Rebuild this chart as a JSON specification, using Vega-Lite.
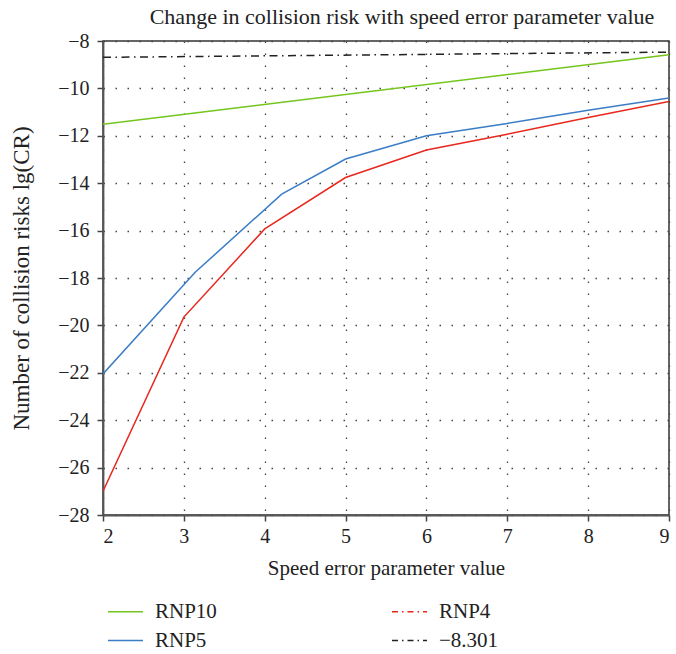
{
  "$schema": "https://vega.github.io/schema/vega-lite/v6.json",
  "width": 566,
  "height": 474,
  "autosize": {"type": "none"},
  "padding": {"left": 103, "top": 41, "right": 7, "bottom": 139},
  "background": "white",
  "title": {
    "text": "Change in collision risk with speed error parameter value",
    "font": "Liberation Serif",
    "fontSize": 22,
    "fontWeight": "normal",
    "color": "#222",
    "anchor": "middle",
    "offset": 2,
    "dx": 16
  },
  "config": {
    "font": "Liberation Serif",
    "view": {"stroke": "#333", "strokeWidth": 1.5},
    "axis": {
      "labelFont": "Liberation Serif",
      "titleFont": "Liberation Serif",
      "labelFontSize": 20,
      "titleFontSize": 21,
      "titleFontWeight": "normal",
      "labelColor": "#222",
      "titleColor": "#222",
      "domainColor": "#555",
      "domainWidth": 1.8,
      "tickColor": "#444",
      "tickWidth": 1.5,
      "tickSize": 6,
      "gridColor": "#444",
      "gridDash": [1.5, 10.5],
      "gridWidth": 1.3
    }
  },
  "data": {
    "values": [
      {"x": 2, "y": -11.51, "series": "RNP10"},
      {"x": 9, "y": -8.58, "series": "RNP10"},
      {"x": 2, "y": -8.69, "series": "−8.301"},
      {"x": 9, "y": -8.47, "series": "−8.301"},
      {"x": 2, "y": -22.05, "series": "RNP5"},
      {"x": 3.14, "y": -17.76, "series": "RNP5"},
      {"x": 4.21, "y": -14.46, "series": "RNP5"},
      {"x": 5, "y": -12.98, "series": "RNP5"},
      {"x": 6, "y": -12.0, "series": "RNP5"},
      {"x": 7, "y": -11.48, "series": "RNP5"},
      {"x": 8, "y": -10.92, "series": "RNP5"},
      {"x": 9, "y": -10.4, "series": "RNP5"},
      {"x": 2, "y": -27.0, "series": "RNP4"},
      {"x": 3, "y": -19.65, "series": "RNP4"},
      {"x": 4, "y": -15.93, "series": "RNP4"},
      {"x": 5, "y": -13.76, "series": "RNP4"},
      {"x": 6, "y": -12.6, "series": "RNP4"},
      {"x": 7, "y": -11.93, "series": "RNP4"},
      {"x": 8, "y": -11.23, "series": "RNP4"},
      {"x": 9, "y": -10.55, "series": "RNP4"}
    ]
  },
  "encoding": {
    "x": {
      "field": "x",
      "type": "quantitative",
      "scale": {"domain": [2, 9], "nice": false},
      "axis": {
        "values": [2, 3, 4, 5, 6, 7, 8, 9],
        "title": "Speed error parameter value",
        "labelPadding": 5,
        "titlePadding": 11
      }
    },
    "y": {
      "field": "y",
      "type": "quantitative",
      "scale": {"domain": [-28, -8], "nice": false},
      "axis": {
        "values": [-28, -26, -24, -22, -20, -18, -16, -14, -12, -10, -8],
        "title": "Number of collision risks lg(CR)",
        "titleFontSize": 23,
        "labelPadding": 8,
        "titlePadding": 24
      }
    },
    "color": {
      "field": "series",
      "type": "nominal",
      "scale": {
        "domain": ["RNP10", "RNP5", "RNP4", "−8.301"],
        "range": ["#74c51c", "#3a7dc6", "#e8271d", "#222222"]
      },
      "legend": {
        "title": null,
        "orient": "none",
        "legendX": 4,
        "legendY": 552,
        "columns": 2,
        "symbolType": "stroke",
        "symbolSize": 1225,
        "symbolStrokeWidth": 1.5,
        "labelFont": "Liberation Serif",
        "labelFontSize": 21,
        "labelColor": "#222",
        "labelOffset": 11,
        "rowPadding": -5,
        "columnPadding": 172,
        "encode": {
          "symbols": {
            "update": {
              "strokeDash": {"signal": "datum.value === 'RNP4' || datum.value === '−8.301' ? [6, 4, 1.5, 4] : [1, 0]"}
            }
          }
        }
      }
    }
  },
  "layer": [
    {
      "transform": [{"filter": "datum.series !== '−8.301'"}],
      "mark": {"type": "line", "strokeWidth": 1.5, "clip": true}
    },
    {
      "transform": [{"filter": "datum.series === '−8.301'"}],
      "mark": {"type": "line", "strokeWidth": 1.5, "clip": true, "strokeDash": [8, 4.5, 1.5, 4.5]}
    }
  ]
}
